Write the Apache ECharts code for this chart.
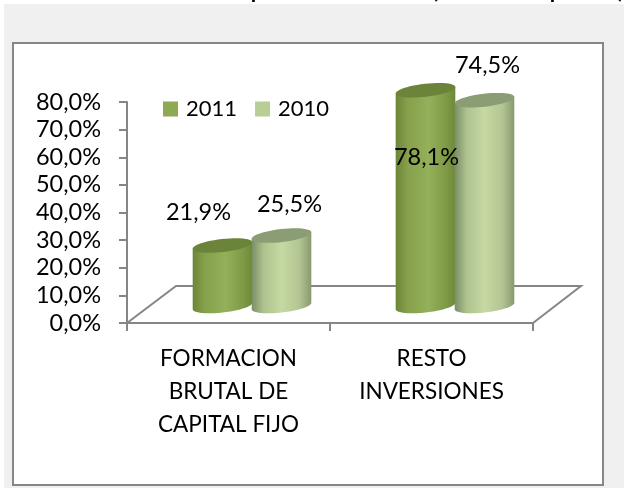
<!DOCTYPE html>
<html>
<head>
<meta charset="utf-8">
<title>Chart</title>
<style>
  html, body { margin: 0; padding: 0; background: #fff; }
  #chart { width: 624px; height: 489px; }
</style>
<script src="https://cdn.jsdelivr.net/npm/echarts@6/dist/echarts.min.js"></script>
</head>
<body>
<div id="chart"></div>
<script>
const categories = ['FORMACION\nBRUTAL DE\nCAPITAL FIJO', 'RESTO\nINVERSIONES']
const yTickLabels = ['0,0%', '10,0%', '20,0%', '30,0%', '40,0%', '50,0%', '60,0%', '70,0%', '80,0%']
const values2011 = [21.9, 78.1]
const values2010 = [25.5, 74.5]
const labels2011 = ['21,9%', '78,1%']
const labels2010 = ['25,5%', '74,5%']

// hand placed labels, relative to the top of each cylinder
const labelOffset2011 = [[-24, -33], [1, 67]]
const labelOffset2010 = [[8, -31], [3, -35]]

const FONT = 'Lato'
const AXIS_COLOR = '#868686'
const DEPTH_X = 23.5, DEPTH_Y = 17
const RX = 30, RY = 6.5, TILT = -6.5 * Math.PI / 180

function ellipsePoint(cx, cy, t) {
  return [
    cx + RX * Math.cos(t) * Math.cos(TILT) - RY * Math.sin(t) * Math.sin(TILT),
    cy + RX * Math.cos(t) * Math.sin(TILT) + RY * Math.sin(t) * Math.cos(TILT),
  ]
}

function arcPoints(cx, cy, from, to) {
  const pts = []
  for (let i = 0; i <= 48; i++) pts.push(ellipsePoint(cx, cy, from + (to - from) * i / 48))
  return pts
}

function sideGradient(stops) {
  return new echarts.graphic.LinearGradient(0, 0, 1, 0, stops)
}

function cylinderSeries(name, values, labels, offsets, dx, legendColor, sideStops, topColor) {
  return {
    name, type: 'custom', data: values.map((v, i) => [i, v]),
    encode: { x: 0, y: 1 },
    itemStyle: { color: legendColor },
    renderItem(params, api) {
      const idx = api.value(0)
      const base = api.coord([idx, 0])
      const top = api.coord([idx, api.value(1)])
      const cx = base[0] + dx + DEPTH_X
      const yBase = base[1] - DEPTH_Y
      const yTop = top[1] - DEPTH_Y
      // parameter where the tilted ellipse reaches its right-most point
      const t0 = Math.atan(-(RY * Math.sin(TILT)) / (RX * Math.cos(TILT)))
      const body = arcPoints(cx, yBase, t0, t0 + Math.PI)
      body.push(ellipsePoint(cx, yTop, t0 + Math.PI), ellipsePoint(cx, yTop, t0))
      const off = offsets[params.dataIndex]
      return {
        type: 'group',
        children: [
          { type: 'polygon', shape: { points: body }, style: { fill: sideGradient(sideStops) } },
          { type: 'polygon', shape: { points: arcPoints(cx, yTop, 0, Math.PI * 2) }, style: { fill: topColor } },
          {
            type: 'text', z2: 100,
            style: {
              text: labels[params.dataIndex], x: cx + off[0], y: yTop + off[1],
              align: 'center', verticalAlign: 'middle',
              fill: '#000', font: '23.5px ' + FONT,
            },
          },
        ],
      }
    },
  }
}

const chart = echarts.init(document.getElementById('chart'), null, { renderer: 'canvas' })

chart.setOption({
  animation: false,
  backgroundColor: '#fff',
  textStyle: { fontFamily: FONT },
  graphic: [
    { type: 'rect', z: -10, shape: { x: 4, y: 4, width: 620, height: 484 }, style: { fill: '#f0f0f0' } },
    {
      type: 'rect', z: -9, shape: { x: 13, y: 43, width: 590, height: 442 },
      style: { fill: '#fff', stroke: AXIS_COLOR, lineWidth: 2 },
    },
    // bottoms of the cut-off heading above the panel
    { type: 'text', z: -8, style: { text: 'p', x: 257, y: 2, align: 'center', verticalAlign: 'bottom', fill: '#000', font: 'bold 22px ' + FONT } },
    { type: 'text', z: -8, style: { text: '(', x: 435, y: 2, align: 'center', verticalAlign: 'bottom', fill: '#000', font: 'bold 22px ' + FONT } },
    { type: 'text', z: -8, style: { text: 'p', x: 556, y: 2, align: 'center', verticalAlign: 'bottom', fill: '#000', font: 'bold 22px ' + FONT } },
    { type: 'text', z: -8, style: { text: ')', x: 621, y: 2, align: 'center', verticalAlign: 'bottom', fill: '#000', font: 'bold 22px ' + FONT } },
  ],
  legend: {
    data: ['2011', '2010'],
    left: 163, top: 98, padding: 0,
    itemWidth: 15, itemHeight: 15, itemGap: 18,
    icon: 'rect',
    textStyle: { fontFamily: FONT, fontSize: 22, color: '#000', padding: [0, 0, 0, 3] },
  },
  grid: { left: 127, right: 91, top: 102, bottom: 166 },
  xAxis: {
    type: 'category', data: categories,
    axisLine: { lineStyle: { color: AXIS_COLOR, width: 2 } },
    axisTick: { show: true, length: 8, lineStyle: { color: AXIS_COLOR, width: 2 } },
    axisLabel: { color: '#000', fontFamily: FONT, fontSize: 22.5, lineHeight: 33, margin: 19, interval: 0 },
    splitLine: { show: false },
  },
  yAxis: {
    type: 'value', min: 0, max: 80, interval: 10,
    axisLine: { show: true, lineStyle: { color: AXIS_COLOR, width: 2 } },
    axisTick: { show: true, length: 8, lineStyle: { color: AXIS_COLOR, width: 2 } },
    axisLabel: {
      color: '#000', fontFamily: FONT, fontSize: 23.5, margin: 26, lineHeight: 23, padding: [4, 0, 0, 0],
      showMinLabel: true, showMaxLabel: true,
      formatter: (v, i) => yTickLabels[i],
    },
    splitLine: { show: false },
  },
  series: [
    {
      name: 'floor', type: 'custom', data: [0], silent: true,
      renderItem(params) {
        const r = params.coordSys
        const y0 = r.y + r.height
        return {
          type: 'polyline',
          shape: { points: [[r.x, y0], [r.x + 49, y0 - 37], [r.x + r.width + 48, y0 - 37], [r.x + r.width, y0]] },
          style: { stroke: AXIS_COLOR, lineWidth: 2, fill: null },
        }
      },
    },
    cylinderSeries('2011', values2011, labels2011, labelOffset2011, -29.5, '#8fa854', [
      { offset: 0, color: '#6c8637' },
      { offset: 0.2, color: '#86a04c' },
      { offset: 0.55, color: '#94b05a' },
      { offset: 0.85, color: '#7f9a45' },
      { offset: 1, color: '#6d8838' },
    ], '#6b8439'),
    cylinderSeries('2010', values2010, labels2010, labelOffset2010, 29.5, '#b9cd96', [
      { offset: 0, color: '#7b8d66' },
      { offset: 0.2, color: '#aec28e' },
      { offset: 0.5, color: '#c6d9a2' },
      { offset: 0.8, color: '#b3c692' },
      { offset: 1, color: '#88996f' },
    ], '#8b9d74'),
  ],
})
</script>
</body>
</html>
